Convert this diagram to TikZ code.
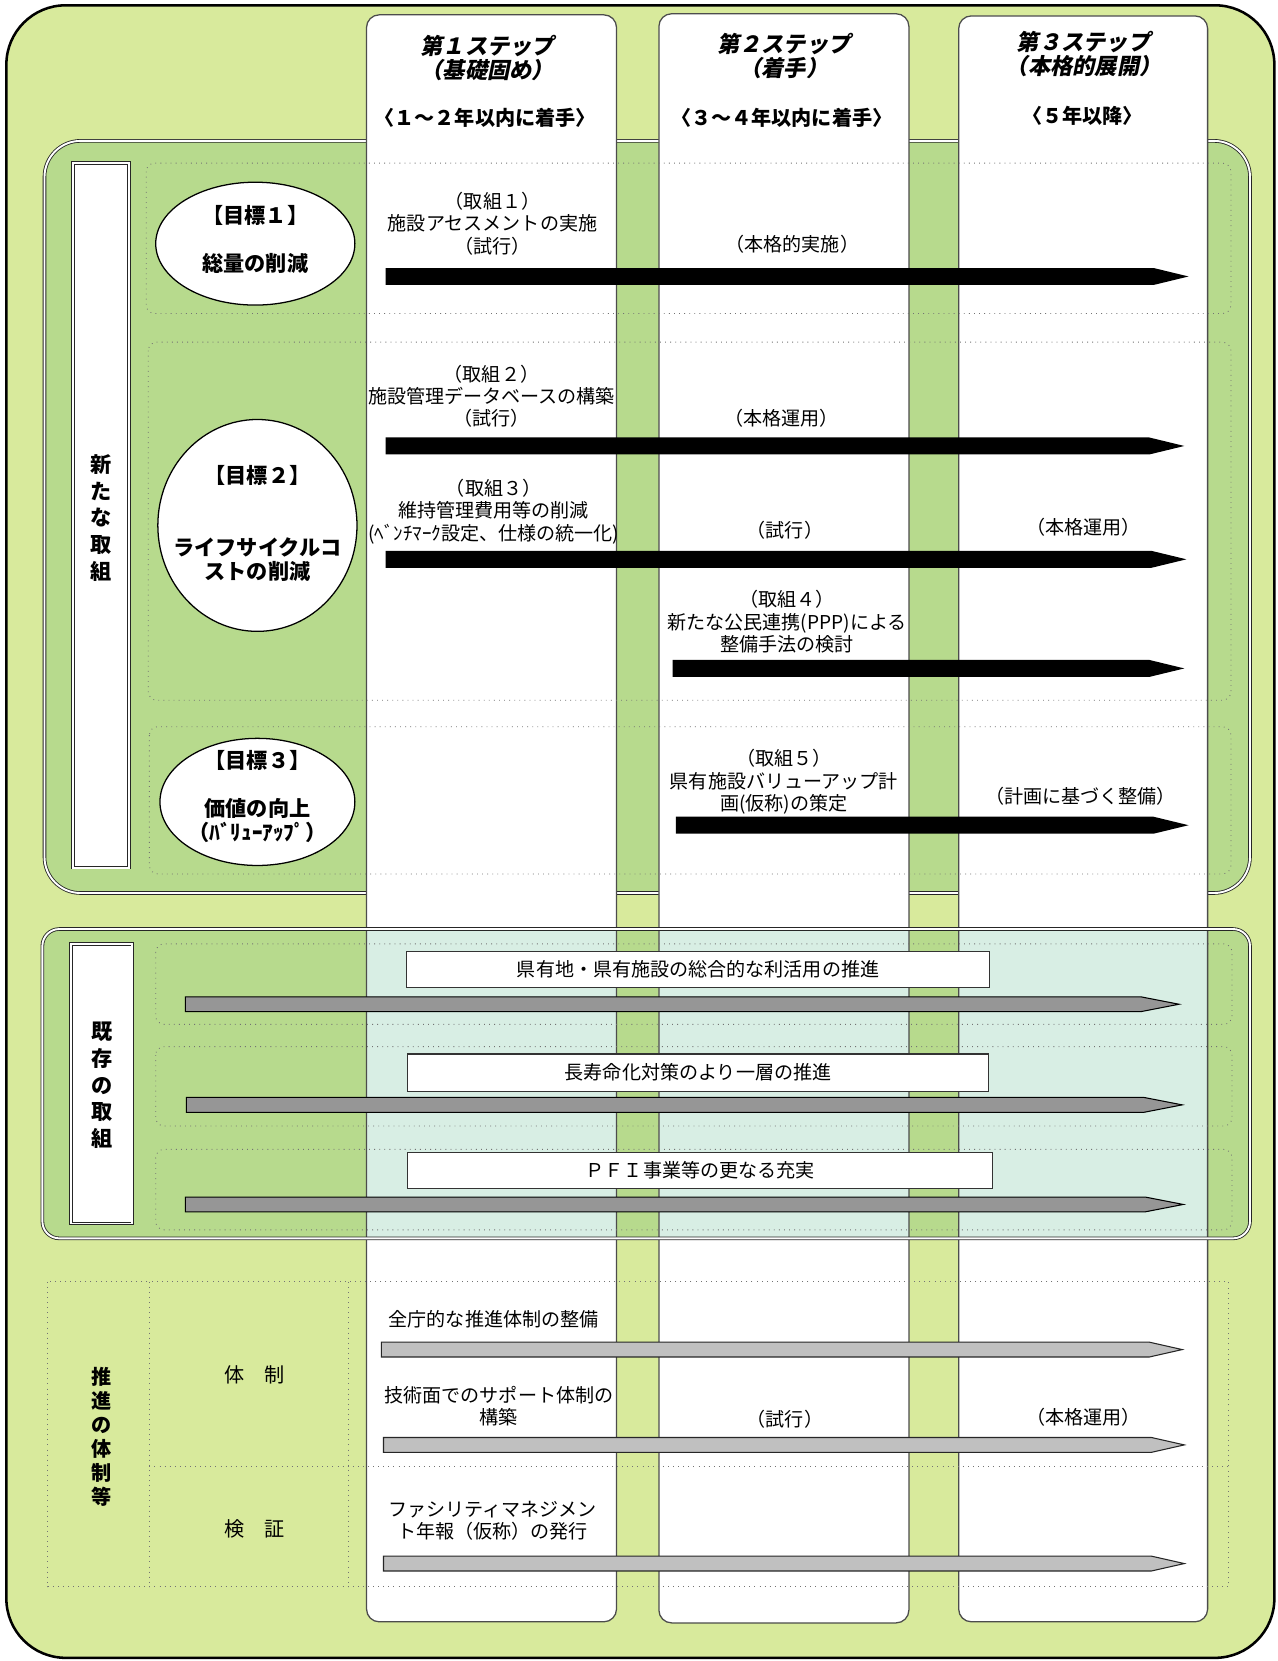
\documentclass[tikz,border=0pt]{standalone}
\usepackage{fontspec}
\setmainfont{Noto Sans CJK JP}
\newfontfamily\jpsl[FakeSlant=0.2]{Noto Sans CJK JP}
\usetikzlibrary{shapes.geometric}
\definecolor{bgout}{HTML}{D8EA9C}
\definecolor{secgreen}{HTML}{B7DA8D}
\definecolor{colteal}{HTML}{D8EEE4}
\definecolor{dgray}{HTML}{969696}
\definecolor{lgray}{HTML}{C0C0C0}
\newcommand{\parrow}[6]{\path[#1] (#2,#4-#5) -- (#3-#6,#4-#5) -- (#3,#4) -- (#3-#6,#4+#5) -- (#2,#4+#5) -- cycle;}
\tikzset{
  jt/.style={font=\fontsize{9pt}{10.5pt}\selectfont, align=center, inner sep=0pt},
  jb/.style={font=\fontsize{10pt}{11.5pt}\selectfont\bfseries, align=center, inner sep=0pt},
  hd/.style={font=\fontsize{10.5pt}{11.5pt}\selectfont\jpsl\bfseries, align=center, inner sep=0pt},
  hb/.style={font=\fontsize{9.5pt}{11pt}\selectfont\bfseries, align=center, inner sep=0pt},
  vlab/.style={font=\fontsize{10pt}{12.6pt}\selectfont\bfseries, align=center, inner sep=0pt},
  colbox/.style={draw=black!70, line width=0.6pt, rounded corners=6pt},
  secbox/.style={draw=black!85, double=white, double distance=0.9pt, line width=0.4pt},
  labbox/.style={draw=black!85, double=white, double distance=0.9pt, line width=0.4pt, fill=white},
  rowbox/.style={draw=black!55, dotted, line width=0.4pt, rounded corners=4pt},
  gridline/.style={draw=black!55, dotted, line width=0.4pt},
  goal/.style={ellipse, draw=black, line width=0.6pt, fill=white, inner sep=0pt},
  barblack/.style={fill=black},
  bardgray/.style={fill=dgray, draw=black, line width=0.5pt},
  barlgray/.style={fill=lgray, draw=black!85, line width=0.5pt},
  tbox/.style={draw=black!80, line width=0.5pt, fill=white, inner sep=0pt, font=\fontsize{9pt}{10.5pt}\selectfont},
}
\begin{document}
\begin{tikzpicture}[x=0.5pt, y=-0.5pt]
\useasboundingbox (0,0) rectangle (1206,1568);
% outer frame
\path[fill=bgout, draw=black, line width=1.2pt, rounded corners=28pt] (6,5) rectangle (1203,1565);
% section fills
\path[fill=secgreen, rounded corners=17pt] (42,133) rectangle (1180,843);
\path[secbox, rounded corners=17pt] (42,133) rectangle (1180,843);
\path[fill=secgreen, rounded corners=8pt] (40,877) rectangle (1180,1169);
% columns fill
\path[fill=white, rounded corners=6pt] (346,14) rectangle (582,1531);
\path[fill=white, rounded corners=6pt] (622,13) rectangle (858,1532);
\path[fill=white, rounded corners=6pt] (905,15) rectangle (1140,1531);
% teal tint in section 2
\path[fill=colteal] (346,878) rectangle (582,1168);
\path[fill=colteal] (622,878) rectangle (858,1168);
\path[fill=colteal] (905,878) rectangle (1140,1168);
% columns outline
\path[colbox] (346,14) rectangle (582,1531);
\path[colbox] (622,13) rectangle (858,1532);
\path[colbox] (905,15) rectangle (1140,1531);
% section 2 border
\path[secbox, rounded corners=8pt] (40,877) rectangle (1180,1169);
% label boxes
\path[labbox] (69,154) rectangle (122,819);
\path[labbox] (67,891) rectangle (125,1155);
% row boxes
\path[rowbox] (138,154) rectangle (1162,296);
\path[rowbox] (140,323) rectangle (1162,661);
\path[rowbox] (141,686) rectangle (1162,825);
\path[rowbox] (147,891) rectangle (1163,967);
\path[rowbox] (147,988) rectangle (1163,1063);
\path[rowbox] (147,1085) rectangle (1163,1161);
% section 3 grid
\path[gridline] (45,1210) rectangle (1160,1498);
\path[gridline] (141,1210) -- (141,1498);
\path[gridline] (329,1210) -- (329,1498);
\path[gridline] (141,1384) -- (1160,1384);
% headers
\node[hd] (h1a) at (460,54.5) {第１ステップ\\（基礎固め）};
\node[hb] (h1b) at (458,111) {〈１～２年以内に着手〉};
\node[hd] (h2a) at (740,53) {第２ステップ\\（着手）};
\node[hb] (h2b) at (738,111) {〈３～４年以内に着手〉};
\node[hd] (h3a) at (1023,51) {第３ステップ\\（本格的展開）};
\node[hb] (h3b) at (1022,109) {〈５年以降〉};
% vertical labels
\node[vlab] (v1) at (95,489) {新\\た\\な\\取\\組};
\node[vlab] (v2) at (96,1024.5) {既\\存\\の\\取\\組};
\node[vlab, font=\fontsize{9.5pt}{11.3pt}\selectfont\bfseries] (v3) at (96,1356.5) {推\\進\\の\\体\\制\\等};
% goals
\node[goal, minimum width=94pt, minimum height=58pt] (e1) at (241,230) {};
\node[goal, minimum width=94pt, minimum height=100pt] (e2) at (243,496) {};
\node[goal, minimum width=92pt, minimum height=60pt] (e3) at (243,757) {};
\node[jb] (g1a) at (241,203) {【目標１】};
\node[jb] (g1b) at (241,249) {総量の削減};
\node[jb] (g2a) at (243,449) {【目標２】};
\node[jb] (g2b) at (243,528) {ライフサイクルコ\\ストの削減};
\node[jb] (g3a) at (243,718) {【目標３】};
\node[jb] (g3b) at (243,774.5) {価値の向上\\（ﾊﾞﾘｭｰｱｯﾌﾟ）};
% black arrows
\parrow{barblack}{364}{1122}{261}{8}{33}
\parrow{barblack}{364}{1118}{421}{8}{33}
\parrow{barblack}{364}{1120}{528}{8}{33}
\parrow{barblack}{635}{1118}{631}{8}{33}
\parrow{barblack}{638}{1122}{779}{8}{33}
% section 1 texts
\node[jt] (t1) at (465,211) {（取組１）\\施設アセスメントの実施\\（試行）};
\node[jt] (t1b) at (748,231) {（本格的実施）};
\node[jt] (t2) at (464,374) {（取組２）\\施設管理データベースの構築\\（試行）};
\node[jt] (t2b) at (738,395) {（本格運用）};
\node[jt] (t3) at (466,483) {（取組３）\\維持管理費用等の削減\\(ﾍﾞﾝﾁﾏｰｸ設定、仕様の統一化)};
\node[jt] (t3b) at (741,501) {（試行）};
\node[jt] (t3c) at (1023,498) {（本格運用）};
\node[jt] (t4) at (743,587) {（取組４）\\新たな公民連携(PPP)による\\整備手法の検討};
\node[jt] (t5) at (740,738) {（取組５）\\県有施設バリューアップ計\\画(仮称)の策定};
\node[jt] (t5b) at (1020,752) {（計画に基づく整備）};
% section 2
\node[tbox, minimum width=275pt, minimum height=17pt] (b1) at (659,915) {県有地・県有施設の総合的な利活用の推進};
\node[tbox, minimum width=274pt, minimum height=17.5pt] (b2) at (659,1012.5) {長寿命化対策のより一層の推進};
\node[tbox, minimum width=276pt, minimum height=17pt] (b3) at (661,1105) {ＰＦＩ事業等の更なる充実};
\parrow{bardgray}{175}{1113}{948}{7}{36}
\parrow{bardgray}{176}{1116}{1043}{7}{36}
\parrow{bardgray}{175}{1117}{1137}{7}{36}
% section 3
\node[jt, font=\fontsize{9.5pt}{11pt}\selectfont] (s1) at (240,1298) {体　制};
\node[jt, font=\fontsize{9.5pt}{11pt}\selectfont] (s2) at (240,1443) {検　証};
\node[jt] (u1) at (466,1245) {全庁的な推進体制の整備};
\node[jt] (u2) at (471,1327.5) {技術面でのサポート体制の\\構築};
\node[jt] (u2b) at (741,1340) {（試行）};
\node[jt] (u2c) at (1023,1338) {（本格運用）};
\node[jt] (u3) at (465,1435.5) {ファシリティマネジメン\\ト年報（仮称）の発行};
\parrow{barlgray}{360}{1116}{1274}{7}{31}
\parrow{barlgray}{362}{1118}{1364}{7}{31}
\parrow{barlgray}{362}{1118}{1476}{7}{31}
\end{tikzpicture}
\end{document}
